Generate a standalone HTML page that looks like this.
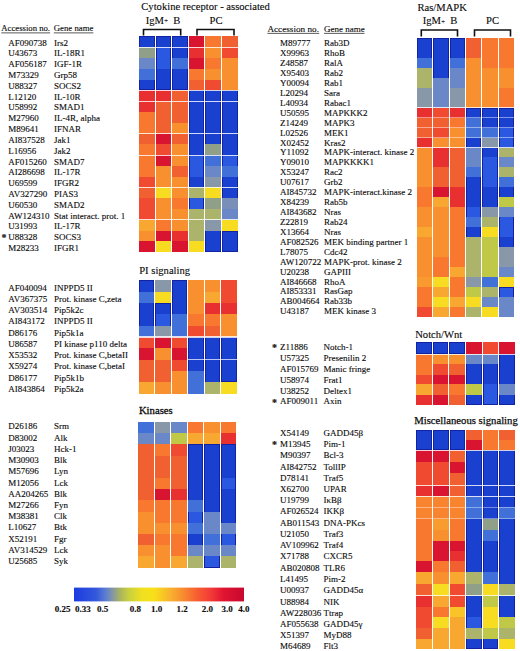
<!DOCTYPE html>
<html><head><meta charset="utf-8"><style>
html,body{margin:0;padding:0;background:#fff;}
body{width:520px;height:651px;overflow:hidden;}
svg{display:block;}
text{font-family:"Liberation Serif", serif;fill:#0a0a0a;stroke:#0a0a0a;stroke-width:0.12px;}
</style></head><body>
<svg width="520" height="651" viewBox="0 0 520 651">
<rect x="0" y="0" width="520" height="651" fill="#fff"/>
<rect x="139" y="36" width="16" height="11" fill="#1a40d0"/>
<rect x="156" y="36" width="15" height="11" fill="#1a40d0"/>
<rect x="172" y="36" width="16" height="11" fill="#1a40d0"/>
<rect x="189" y="36" width="15" height="11" fill="#d81430"/>
<rect x="205" y="36" width="16" height="11" fill="#f87830"/>
<rect x="222" y="36" width="16" height="11" fill="#f06030"/>
<rect x="139" y="47" width="16" height="11" fill="#90a088"/>
<rect x="156" y="47" width="15" height="11" fill="#2a58e0"/>
<rect x="172" y="47" width="16" height="11" fill="#1a40d0"/>
<rect x="189" y="47" width="15" height="11" fill="#e83030"/>
<rect x="205" y="47" width="16" height="11" fill="#f89030"/>
<rect x="222" y="47" width="16" height="11" fill="#f04a30"/>
<rect x="139" y="58" width="16" height="11" fill="#6a88c8"/>
<rect x="156" y="58" width="15" height="11" fill="#2a58e0"/>
<rect x="172" y="58" width="16" height="11" fill="#4070d8"/>
<rect x="189" y="58" width="15" height="11" fill="#d81430"/>
<rect x="205" y="58" width="16" height="11" fill="#f87830"/>
<rect x="222" y="58" width="16" height="11" fill="#f89030"/>
<rect x="139" y="69" width="16" height="11" fill="#4070d8"/>
<rect x="156" y="69" width="15" height="11" fill="#1a40d0"/>
<rect x="172" y="69" width="16" height="11" fill="#1a40d0"/>
<rect x="189" y="69" width="15" height="11" fill="#f87830"/>
<rect x="205" y="69" width="16" height="11" fill="#f89030"/>
<rect x="222" y="69" width="16" height="11" fill="#f89030"/>
<rect x="139" y="80" width="16" height="10" fill="#1a40d0"/>
<rect x="156" y="80" width="15" height="10" fill="#1a40d0"/>
<rect x="172" y="80" width="16" height="10" fill="#1a40d0"/>
<rect x="189" y="80" width="15" height="10" fill="#f06030"/>
<rect x="205" y="80" width="16" height="10" fill="#f04a30"/>
<rect x="222" y="80" width="16" height="10" fill="#f89030"/>
<rect x="139" y="90" width="16" height="11" fill="#e83030"/>
<rect x="156" y="90" width="15" height="11" fill="#e83030"/>
<rect x="172" y="90" width="16" height="11" fill="#f06030"/>
<rect x="189" y="90" width="15" height="11" fill="#1a40d0"/>
<rect x="205" y="90" width="16" height="11" fill="#1a40d0"/>
<rect x="222" y="90" width="16" height="11" fill="#1a40d0"/>
<rect x="139" y="101" width="16" height="11" fill="#e83030"/>
<rect x="156" y="101" width="15" height="11" fill="#f06030"/>
<rect x="172" y="101" width="16" height="11" fill="#f06030"/>
<rect x="189" y="101" width="15" height="11" fill="#1a40d0"/>
<rect x="205" y="101" width="16" height="11" fill="#1a40d0"/>
<rect x="222" y="101" width="16" height="11" fill="#1a40d0"/>
<rect x="139" y="112" width="16" height="11" fill="#f87830"/>
<rect x="156" y="112" width="15" height="11" fill="#f06030"/>
<rect x="172" y="112" width="16" height="11" fill="#f06030"/>
<rect x="189" y="112" width="15" height="11" fill="#1a40d0"/>
<rect x="205" y="112" width="16" height="11" fill="#1a40d0"/>
<rect x="222" y="112" width="16" height="11" fill="#1a40d0"/>
<rect x="139" y="123" width="16" height="11" fill="#f87830"/>
<rect x="156" y="123" width="15" height="11" fill="#f06030"/>
<rect x="172" y="123" width="16" height="11" fill="#f89030"/>
<rect x="189" y="123" width="15" height="11" fill="#1a40d0"/>
<rect x="205" y="123" width="16" height="11" fill="#1a40d0"/>
<rect x="222" y="123" width="16" height="11" fill="#1a40d0"/>
<rect x="139" y="134" width="16" height="10" fill="#f06030"/>
<rect x="156" y="134" width="15" height="10" fill="#d81430"/>
<rect x="172" y="134" width="16" height="10" fill="#f06030"/>
<rect x="189" y="134" width="15" height="10" fill="#1a40d0"/>
<rect x="205" y="134" width="16" height="10" fill="#1a40d0"/>
<rect x="222" y="134" width="16" height="10" fill="#1a40d0"/>
<rect x="139" y="144" width="16" height="11" fill="#f87830"/>
<rect x="156" y="144" width="15" height="11" fill="#f04a30"/>
<rect x="172" y="144" width="16" height="11" fill="#f89030"/>
<rect x="189" y="144" width="15" height="11" fill="#1a40d0"/>
<rect x="205" y="144" width="16" height="11" fill="#90a088"/>
<rect x="222" y="144" width="16" height="11" fill="#1a40d0"/>
<rect x="139" y="155" width="16" height="11" fill="#f87830"/>
<rect x="156" y="155" width="15" height="11" fill="#d81430"/>
<rect x="172" y="155" width="16" height="11" fill="#f89030"/>
<rect x="189" y="155" width="15" height="11" fill="#2a58e0"/>
<rect x="205" y="155" width="16" height="11" fill="#4070d8"/>
<rect x="222" y="155" width="16" height="11" fill="#2a58e0"/>
<rect x="139" y="166" width="16" height="11" fill="#f87830"/>
<rect x="156" y="166" width="15" height="11" fill="#f89030"/>
<rect x="172" y="166" width="16" height="11" fill="#f06030"/>
<rect x="189" y="166" width="15" height="11" fill="#2a58e0"/>
<rect x="205" y="166" width="16" height="11" fill="#6a88c8"/>
<rect x="222" y="166" width="16" height="11" fill="#4070d8"/>
<rect x="139" y="177" width="16" height="10" fill="#f04a30"/>
<rect x="156" y="177" width="15" height="10" fill="#f89030"/>
<rect x="172" y="177" width="16" height="10" fill="#f89030"/>
<rect x="189" y="177" width="15" height="10" fill="#1a40d0"/>
<rect x="205" y="177" width="16" height="10" fill="#8898a8"/>
<rect x="222" y="177" width="16" height="10" fill="#1a40d0"/>
<rect x="139" y="187" width="16" height="11" fill="#f06030"/>
<rect x="156" y="187" width="15" height="11" fill="#f8dc22"/>
<rect x="172" y="187" width="16" height="11" fill="#f89030"/>
<rect x="189" y="187" width="15" height="11" fill="#acb46c"/>
<rect x="205" y="187" width="16" height="11" fill="#f8dc22"/>
<rect x="222" y="187" width="16" height="11" fill="#1a40d0"/>
<rect x="139" y="198" width="16" height="11" fill="#f04a30"/>
<rect x="156" y="198" width="15" height="11" fill="#f89030"/>
<rect x="172" y="198" width="16" height="11" fill="#f87830"/>
<rect x="189" y="198" width="15" height="11" fill="#2a58e0"/>
<rect x="205" y="198" width="16" height="11" fill="#90a088"/>
<rect x="222" y="198" width="16" height="11" fill="#7890b8"/>
<rect x="139" y="209" width="16" height="11" fill="#f04a30"/>
<rect x="156" y="209" width="15" height="11" fill="#f89030"/>
<rect x="172" y="209" width="16" height="11" fill="#f89030"/>
<rect x="189" y="209" width="15" height="11" fill="#acb46c"/>
<rect x="205" y="209" width="16" height="11" fill="#acb46c"/>
<rect x="222" y="209" width="16" height="11" fill="#6a88c8"/>
<rect x="139" y="220" width="16" height="11" fill="#f8a830"/>
<rect x="156" y="220" width="15" height="11" fill="#f87830"/>
<rect x="172" y="220" width="16" height="11" fill="#f89030"/>
<rect x="189" y="220" width="15" height="11" fill="#acb46c"/>
<rect x="205" y="220" width="16" height="11" fill="#8898a8"/>
<rect x="222" y="220" width="16" height="11" fill="#f8dc22"/>
<rect x="139" y="231" width="16" height="10" fill="#f89030"/>
<rect x="156" y="231" width="15" height="10" fill="#d81430"/>
<rect x="172" y="231" width="16" height="10" fill="#e83030"/>
<rect x="189" y="231" width="15" height="10" fill="#acb46c"/>
<rect x="205" y="231" width="16" height="10" fill="#1a40d0"/>
<rect x="222" y="231" width="16" height="10" fill="#1a40d0"/>
<rect x="139" y="241" width="16" height="11" fill="#d81430"/>
<rect x="156" y="241" width="15" height="11" fill="#f8dc22"/>
<rect x="172" y="241" width="16" height="11" fill="#d81430"/>
<rect x="189" y="241" width="15" height="11" fill="#f8dc22"/>
<rect x="205" y="241" width="16" height="11" fill="#1a40d0"/>
<rect x="222" y="241" width="16" height="11" fill="#1a40d0"/>
<rect x="139" y="36" width="1" height="11" fill="#1222a0"/>
<rect x="154" y="36" width="1" height="11" fill="#1222a0"/>
<rect x="139" y="36" width="16" height="1" fill="#1222a0"/>
<rect x="156" y="36" width="1" height="11" fill="#1222a0"/>
<rect x="170" y="36" width="1" height="11" fill="#1222a0"/>
<rect x="156" y="36" width="15" height="1" fill="#1222a0"/>
<rect x="172" y="36" width="1" height="11" fill="#1222a0"/>
<rect x="187" y="36" width="1" height="11" fill="#1222a0"/>
<rect x="172" y="36" width="16" height="1" fill="#1222a0"/>
<rect x="156" y="47" width="1" height="11" fill="#1222a0"/>
<rect x="170" y="47" width="1" height="11" fill="#1222a0"/>
<rect x="172" y="47" width="1" height="11" fill="#1222a0"/>
<rect x="187" y="47" width="1" height="11" fill="#1222a0"/>
<rect x="156" y="58" width="1" height="11" fill="#1222a0"/>
<rect x="170" y="58" width="1" height="11" fill="#1222a0"/>
<rect x="156" y="69" width="1" height="11" fill="#1222a0"/>
<rect x="170" y="69" width="1" height="11" fill="#1222a0"/>
<rect x="172" y="69" width="1" height="11" fill="#1222a0"/>
<rect x="187" y="69" width="1" height="11" fill="#1222a0"/>
<rect x="139" y="80" width="1" height="10" fill="#1222a0"/>
<rect x="154" y="80" width="1" height="10" fill="#1222a0"/>
<rect x="139" y="89" width="16" height="1" fill="#1222a0"/>
<rect x="156" y="80" width="1" height="10" fill="#1222a0"/>
<rect x="170" y="80" width="1" height="10" fill="#1222a0"/>
<rect x="156" y="89" width="15" height="1" fill="#1222a0"/>
<rect x="172" y="80" width="1" height="10" fill="#1222a0"/>
<rect x="187" y="80" width="1" height="10" fill="#1222a0"/>
<rect x="172" y="89" width="16" height="1" fill="#1222a0"/>
<rect x="189" y="90" width="1" height="11" fill="#1222a0"/>
<rect x="203" y="90" width="1" height="11" fill="#1222a0"/>
<rect x="189" y="90" width="15" height="1" fill="#1222a0"/>
<rect x="205" y="90" width="1" height="11" fill="#1222a0"/>
<rect x="220" y="90" width="1" height="11" fill="#1222a0"/>
<rect x="205" y="90" width="16" height="1" fill="#1222a0"/>
<rect x="222" y="90" width="1" height="11" fill="#1222a0"/>
<rect x="237" y="90" width="1" height="11" fill="#1222a0"/>
<rect x="222" y="90" width="16" height="1" fill="#1222a0"/>
<rect x="189" y="101" width="1" height="11" fill="#1222a0"/>
<rect x="203" y="101" width="1" height="11" fill="#1222a0"/>
<rect x="205" y="101" width="1" height="11" fill="#1222a0"/>
<rect x="220" y="101" width="1" height="11" fill="#1222a0"/>
<rect x="222" y="101" width="1" height="11" fill="#1222a0"/>
<rect x="237" y="101" width="1" height="11" fill="#1222a0"/>
<rect x="189" y="112" width="1" height="11" fill="#1222a0"/>
<rect x="203" y="112" width="1" height="11" fill="#1222a0"/>
<rect x="205" y="112" width="1" height="11" fill="#1222a0"/>
<rect x="220" y="112" width="1" height="11" fill="#1222a0"/>
<rect x="222" y="112" width="1" height="11" fill="#1222a0"/>
<rect x="237" y="112" width="1" height="11" fill="#1222a0"/>
<rect x="189" y="123" width="1" height="11" fill="#1222a0"/>
<rect x="203" y="123" width="1" height="11" fill="#1222a0"/>
<rect x="205" y="123" width="1" height="11" fill="#1222a0"/>
<rect x="220" y="123" width="1" height="11" fill="#1222a0"/>
<rect x="222" y="123" width="1" height="11" fill="#1222a0"/>
<rect x="237" y="123" width="1" height="11" fill="#1222a0"/>
<rect x="189" y="134" width="1" height="10" fill="#1222a0"/>
<rect x="203" y="134" width="1" height="10" fill="#1222a0"/>
<rect x="205" y="134" width="1" height="10" fill="#1222a0"/>
<rect x="220" y="134" width="1" height="10" fill="#1222a0"/>
<rect x="222" y="134" width="1" height="10" fill="#1222a0"/>
<rect x="237" y="134" width="1" height="10" fill="#1222a0"/>
<rect x="189" y="144" width="1" height="11" fill="#1222a0"/>
<rect x="203" y="144" width="1" height="11" fill="#1222a0"/>
<rect x="222" y="144" width="1" height="11" fill="#1222a0"/>
<rect x="237" y="144" width="1" height="11" fill="#1222a0"/>
<rect x="189" y="155" width="1" height="11" fill="#1222a0"/>
<rect x="203" y="155" width="1" height="11" fill="#1222a0"/>
<rect x="222" y="155" width="1" height="11" fill="#1222a0"/>
<rect x="237" y="155" width="1" height="11" fill="#1222a0"/>
<rect x="189" y="166" width="1" height="11" fill="#1222a0"/>
<rect x="203" y="166" width="1" height="11" fill="#1222a0"/>
<rect x="189" y="177" width="1" height="10" fill="#1222a0"/>
<rect x="203" y="177" width="1" height="10" fill="#1222a0"/>
<rect x="222" y="177" width="1" height="10" fill="#1222a0"/>
<rect x="237" y="177" width="1" height="10" fill="#1222a0"/>
<rect x="222" y="187" width="1" height="11" fill="#1222a0"/>
<rect x="237" y="187" width="1" height="11" fill="#1222a0"/>
<rect x="189" y="198" width="1" height="11" fill="#1222a0"/>
<rect x="203" y="198" width="1" height="11" fill="#1222a0"/>
<rect x="205" y="231" width="1" height="10" fill="#1222a0"/>
<rect x="220" y="231" width="1" height="10" fill="#1222a0"/>
<rect x="222" y="231" width="1" height="10" fill="#1222a0"/>
<rect x="237" y="231" width="1" height="10" fill="#1222a0"/>
<rect x="222" y="231" width="16" height="1" fill="#1222a0"/>
<rect x="205" y="241" width="1" height="11" fill="#1222a0"/>
<rect x="220" y="241" width="1" height="11" fill="#1222a0"/>
<rect x="205" y="251" width="16" height="1" fill="#1222a0"/>
<rect x="222" y="241" width="1" height="11" fill="#1222a0"/>
<rect x="237" y="241" width="1" height="11" fill="#1222a0"/>
<rect x="222" y="251" width="16" height="1" fill="#1222a0"/>
<rect x="138" y="47" width="100" height="1" fill="rgba(255,255,255,0.8)"/>
<rect x="138" y="90" width="100" height="1" fill="rgba(255,255,255,0.8)"/>
<rect x="138" y="101" width="100" height="1" fill="rgba(255,255,255,0.8)"/>
<rect x="138" y="133" width="100" height="1" fill="rgba(255,255,255,0.8)"/>
<rect x="138" y="155" width="100" height="1" fill="rgba(255,255,255,0.8)"/>
<rect x="138" y="187" width="100" height="1" fill="rgba(255,255,255,0.8)"/>
<rect x="138" y="219" width="100" height="1" fill="rgba(255,255,255,0.8)"/>
<rect x="139" y="280" width="15" height="12" fill="#1a40d0"/>
<rect x="155" y="280" width="16" height="12" fill="#8898a8"/>
<rect x="172" y="280" width="15" height="12" fill="#1a40d0"/>
<rect x="188" y="280" width="16" height="12" fill="#f89030"/>
<rect x="205" y="280" width="15" height="12" fill="#f89030"/>
<rect x="221" y="280" width="16" height="12" fill="#f04a30"/>
<rect x="139" y="292" width="15" height="11" fill="#4070d8"/>
<rect x="155" y="292" width="16" height="11" fill="#f8dc22"/>
<rect x="172" y="292" width="15" height="11" fill="#1a40d0"/>
<rect x="188" y="292" width="16" height="11" fill="#f89030"/>
<rect x="205" y="292" width="15" height="11" fill="#f8a830"/>
<rect x="221" y="292" width="16" height="11" fill="#f04a30"/>
<rect x="139" y="303" width="15" height="11" fill="#1a40d0"/>
<rect x="155" y="303" width="16" height="11" fill="#1a40d0"/>
<rect x="172" y="303" width="15" height="11" fill="#1a40d0"/>
<rect x="188" y="303" width="16" height="11" fill="#f89030"/>
<rect x="205" y="303" width="15" height="11" fill="#e83030"/>
<rect x="221" y="303" width="16" height="11" fill="#e83030"/>
<rect x="139" y="314" width="15" height="12" fill="#1a40d0"/>
<rect x="155" y="314" width="16" height="12" fill="#2a58e0"/>
<rect x="172" y="314" width="15" height="12" fill="#4070d8"/>
<rect x="188" y="314" width="16" height="12" fill="#f87830"/>
<rect x="205" y="314" width="15" height="12" fill="#f87830"/>
<rect x="221" y="314" width="16" height="12" fill="#f89030"/>
<rect x="139" y="326" width="15" height="11" fill="#4070d8"/>
<rect x="155" y="326" width="16" height="11" fill="#8898a8"/>
<rect x="172" y="326" width="15" height="11" fill="#4070d8"/>
<rect x="188" y="326" width="16" height="11" fill="#f04a30"/>
<rect x="205" y="326" width="15" height="11" fill="#f06030"/>
<rect x="221" y="326" width="16" height="11" fill="#f89030"/>
<rect x="139" y="337" width="15" height="11" fill="#f04a30"/>
<rect x="155" y="337" width="16" height="11" fill="#d81430"/>
<rect x="172" y="337" width="15" height="11" fill="#f04a30"/>
<rect x="188" y="337" width="16" height="11" fill="#1a40d0"/>
<rect x="205" y="337" width="15" height="11" fill="#1a40d0"/>
<rect x="221" y="337" width="16" height="11" fill="#1a40d0"/>
<rect x="139" y="348" width="15" height="12" fill="#d81430"/>
<rect x="155" y="348" width="16" height="12" fill="#f89030"/>
<rect x="172" y="348" width="15" height="12" fill="#d81430"/>
<rect x="188" y="348" width="16" height="12" fill="#1a40d0"/>
<rect x="205" y="348" width="15" height="12" fill="#1a40d0"/>
<rect x="221" y="348" width="16" height="12" fill="#1a40d0"/>
<rect x="139" y="360" width="15" height="11" fill="#f06030"/>
<rect x="155" y="360" width="16" height="11" fill="#f06030"/>
<rect x="172" y="360" width="15" height="11" fill="#f04a30"/>
<rect x="188" y="360" width="16" height="11" fill="#1a40d0"/>
<rect x="205" y="360" width="15" height="11" fill="#1a40d0"/>
<rect x="221" y="360" width="16" height="11" fill="#1a40d0"/>
<rect x="139" y="371" width="15" height="11" fill="#f06030"/>
<rect x="155" y="371" width="16" height="11" fill="#f06030"/>
<rect x="172" y="371" width="15" height="11" fill="#f89030"/>
<rect x="188" y="371" width="16" height="11" fill="#4070d8"/>
<rect x="205" y="371" width="15" height="11" fill="#1a40d0"/>
<rect x="221" y="371" width="16" height="11" fill="#1a40d0"/>
<rect x="139" y="382" width="15" height="12" fill="#f8a830"/>
<rect x="155" y="382" width="16" height="12" fill="#f89030"/>
<rect x="172" y="382" width="15" height="12" fill="#f89030"/>
<rect x="188" y="382" width="16" height="12" fill="#4070d8"/>
<rect x="205" y="382" width="15" height="12" fill="#acb46c"/>
<rect x="221" y="382" width="16" height="12" fill="#f8dc22"/>
<rect x="139" y="280" width="1" height="12" fill="#1222a0"/>
<rect x="153" y="280" width="1" height="12" fill="#1222a0"/>
<rect x="139" y="280" width="15" height="1" fill="#1222a0"/>
<rect x="172" y="280" width="1" height="12" fill="#1222a0"/>
<rect x="186" y="280" width="1" height="12" fill="#1222a0"/>
<rect x="172" y="280" width="15" height="1" fill="#1222a0"/>
<rect x="172" y="292" width="1" height="11" fill="#1222a0"/>
<rect x="186" y="292" width="1" height="11" fill="#1222a0"/>
<rect x="139" y="303" width="1" height="11" fill="#1222a0"/>
<rect x="153" y="303" width="1" height="11" fill="#1222a0"/>
<rect x="155" y="303" width="1" height="11" fill="#1222a0"/>
<rect x="170" y="303" width="1" height="11" fill="#1222a0"/>
<rect x="155" y="303" width="16" height="1" fill="#1222a0"/>
<rect x="172" y="303" width="1" height="11" fill="#1222a0"/>
<rect x="186" y="303" width="1" height="11" fill="#1222a0"/>
<rect x="139" y="314" width="1" height="12" fill="#1222a0"/>
<rect x="153" y="314" width="1" height="12" fill="#1222a0"/>
<rect x="155" y="314" width="1" height="12" fill="#1222a0"/>
<rect x="170" y="314" width="1" height="12" fill="#1222a0"/>
<rect x="188" y="337" width="1" height="11" fill="#1222a0"/>
<rect x="203" y="337" width="1" height="11" fill="#1222a0"/>
<rect x="188" y="337" width="16" height="1" fill="#1222a0"/>
<rect x="205" y="337" width="1" height="11" fill="#1222a0"/>
<rect x="219" y="337" width="1" height="11" fill="#1222a0"/>
<rect x="205" y="337" width="15" height="1" fill="#1222a0"/>
<rect x="221" y="337" width="1" height="11" fill="#1222a0"/>
<rect x="236" y="337" width="1" height="11" fill="#1222a0"/>
<rect x="221" y="337" width="16" height="1" fill="#1222a0"/>
<rect x="188" y="348" width="1" height="12" fill="#1222a0"/>
<rect x="203" y="348" width="1" height="12" fill="#1222a0"/>
<rect x="205" y="348" width="1" height="12" fill="#1222a0"/>
<rect x="219" y="348" width="1" height="12" fill="#1222a0"/>
<rect x="221" y="348" width="1" height="12" fill="#1222a0"/>
<rect x="236" y="348" width="1" height="12" fill="#1222a0"/>
<rect x="188" y="360" width="1" height="11" fill="#1222a0"/>
<rect x="203" y="360" width="1" height="11" fill="#1222a0"/>
<rect x="205" y="360" width="1" height="11" fill="#1222a0"/>
<rect x="219" y="360" width="1" height="11" fill="#1222a0"/>
<rect x="221" y="360" width="1" height="11" fill="#1222a0"/>
<rect x="236" y="360" width="1" height="11" fill="#1222a0"/>
<rect x="205" y="371" width="1" height="11" fill="#1222a0"/>
<rect x="219" y="371" width="1" height="11" fill="#1222a0"/>
<rect x="221" y="371" width="1" height="11" fill="#1222a0"/>
<rect x="236" y="371" width="1" height="11" fill="#1222a0"/>
<rect x="221" y="381" width="16" height="1" fill="#1222a0"/>
<rect x="138" y="336" width="99" height="2" fill="rgba(255,255,255,0.8)"/>
<rect x="188" y="359" width="49" height="1" fill="rgba(255,255,255,0.7)"/>
<rect x="138" y="422" width="16" height="11" fill="#4070d8"/>
<rect x="155" y="422" width="15" height="11" fill="#8898a8"/>
<rect x="171" y="422" width="16" height="11" fill="#6a88c8"/>
<rect x="188" y="422" width="15" height="11" fill="#f87830"/>
<rect x="204" y="422" width="16" height="11" fill="#f89030"/>
<rect x="221" y="422" width="15" height="11" fill="#f87830"/>
<rect x="138" y="433" width="16" height="11" fill="#6a88c8"/>
<rect x="155" y="433" width="15" height="11" fill="#6a88c8"/>
<rect x="171" y="433" width="16" height="11" fill="#c0c848"/>
<rect x="188" y="433" width="15" height="11" fill="#f8a830"/>
<rect x="204" y="433" width="16" height="11" fill="#f8a830"/>
<rect x="221" y="433" width="15" height="11" fill="#e83030"/>
<rect x="138" y="444" width="16" height="12" fill="#f06030"/>
<rect x="155" y="444" width="15" height="12" fill="#f87830"/>
<rect x="171" y="444" width="16" height="12" fill="#f04a30"/>
<rect x="188" y="444" width="15" height="12" fill="#1a40d0"/>
<rect x="204" y="444" width="16" height="12" fill="#1a40d0"/>
<rect x="221" y="444" width="15" height="12" fill="#1a40d0"/>
<rect x="138" y="456" width="16" height="11" fill="#f06030"/>
<rect x="155" y="456" width="15" height="11" fill="#f06030"/>
<rect x="171" y="456" width="16" height="11" fill="#f06030"/>
<rect x="188" y="456" width="15" height="11" fill="#1a40d0"/>
<rect x="204" y="456" width="16" height="11" fill="#1a40d0"/>
<rect x="221" y="456" width="15" height="11" fill="#1a40d0"/>
<rect x="138" y="467" width="16" height="11" fill="#f06030"/>
<rect x="155" y="467" width="15" height="11" fill="#f06030"/>
<rect x="171" y="467" width="16" height="11" fill="#f06030"/>
<rect x="188" y="467" width="15" height="11" fill="#1a40d0"/>
<rect x="204" y="467" width="16" height="11" fill="#1a40d0"/>
<rect x="221" y="467" width="15" height="11" fill="#1a40d0"/>
<rect x="138" y="478" width="16" height="11" fill="#f06030"/>
<rect x="155" y="478" width="15" height="11" fill="#f87830"/>
<rect x="171" y="478" width="16" height="11" fill="#f06030"/>
<rect x="188" y="478" width="15" height="11" fill="#1a40d0"/>
<rect x="204" y="478" width="16" height="11" fill="#1a40d0"/>
<rect x="221" y="478" width="15" height="11" fill="#2a58e0"/>
<rect x="138" y="489" width="16" height="11" fill="#f06030"/>
<rect x="155" y="489" width="15" height="11" fill="#d81430"/>
<rect x="171" y="489" width="16" height="11" fill="#e83030"/>
<rect x="188" y="489" width="15" height="11" fill="#1a40d0"/>
<rect x="204" y="489" width="16" height="11" fill="#1a40d0"/>
<rect x="221" y="489" width="15" height="11" fill="#1a40d0"/>
<rect x="138" y="500" width="16" height="12" fill="#f87830"/>
<rect x="155" y="500" width="15" height="12" fill="#f87830"/>
<rect x="171" y="500" width="16" height="12" fill="#f87830"/>
<rect x="188" y="500" width="15" height="12" fill="#4070d8"/>
<rect x="204" y="500" width="16" height="12" fill="#1a40d0"/>
<rect x="221" y="500" width="15" height="12" fill="#1a40d0"/>
<rect x="138" y="512" width="16" height="11" fill="#f89030"/>
<rect x="155" y="512" width="15" height="11" fill="#f87830"/>
<rect x="171" y="512" width="16" height="11" fill="#f87830"/>
<rect x="188" y="512" width="15" height="11" fill="#2a58e0"/>
<rect x="204" y="512" width="16" height="11" fill="#6a88c8"/>
<rect x="221" y="512" width="15" height="11" fill="#1a40d0"/>
<rect x="138" y="523" width="16" height="11" fill="#f89030"/>
<rect x="155" y="523" width="15" height="11" fill="#f89030"/>
<rect x="171" y="523" width="16" height="11" fill="#f89030"/>
<rect x="188" y="523" width="15" height="11" fill="#4070d8"/>
<rect x="204" y="523" width="16" height="11" fill="#6a88c8"/>
<rect x="221" y="523" width="15" height="11" fill="#6a88c8"/>
<rect x="138" y="534" width="16" height="11" fill="#f06030"/>
<rect x="155" y="534" width="15" height="11" fill="#f87830"/>
<rect x="171" y="534" width="16" height="11" fill="#f87830"/>
<rect x="188" y="534" width="15" height="11" fill="#1a40d0"/>
<rect x="204" y="534" width="16" height="11" fill="#4070d8"/>
<rect x="221" y="534" width="15" height="11" fill="#2a58e0"/>
<rect x="138" y="545" width="16" height="11" fill="#f89030"/>
<rect x="155" y="545" width="15" height="11" fill="#f89030"/>
<rect x="171" y="545" width="16" height="11" fill="#f87830"/>
<rect x="188" y="545" width="15" height="11" fill="#6a88c8"/>
<rect x="204" y="545" width="16" height="11" fill="#6a88c8"/>
<rect x="221" y="545" width="15" height="11" fill="#6a88c8"/>
<rect x="138" y="556" width="16" height="12" fill="#f8a830"/>
<rect x="155" y="556" width="15" height="12" fill="#f89030"/>
<rect x="171" y="556" width="16" height="12" fill="#f8a830"/>
<rect x="188" y="556" width="15" height="12" fill="#acb46c"/>
<rect x="204" y="556" width="16" height="12" fill="#2a58e0"/>
<rect x="221" y="556" width="15" height="12" fill="#acb46c"/>
<rect x="188" y="444" width="1" height="12" fill="#1222a0"/>
<rect x="202" y="444" width="1" height="12" fill="#1222a0"/>
<rect x="188" y="444" width="15" height="1" fill="#1222a0"/>
<rect x="204" y="444" width="1" height="12" fill="#1222a0"/>
<rect x="219" y="444" width="1" height="12" fill="#1222a0"/>
<rect x="204" y="444" width="16" height="1" fill="#1222a0"/>
<rect x="221" y="444" width="1" height="12" fill="#1222a0"/>
<rect x="235" y="444" width="1" height="12" fill="#1222a0"/>
<rect x="221" y="444" width="15" height="1" fill="#1222a0"/>
<rect x="188" y="456" width="1" height="11" fill="#1222a0"/>
<rect x="202" y="456" width="1" height="11" fill="#1222a0"/>
<rect x="204" y="456" width="1" height="11" fill="#1222a0"/>
<rect x="219" y="456" width="1" height="11" fill="#1222a0"/>
<rect x="221" y="456" width="1" height="11" fill="#1222a0"/>
<rect x="235" y="456" width="1" height="11" fill="#1222a0"/>
<rect x="188" y="467" width="1" height="11" fill="#1222a0"/>
<rect x="202" y="467" width="1" height="11" fill="#1222a0"/>
<rect x="204" y="467" width="1" height="11" fill="#1222a0"/>
<rect x="219" y="467" width="1" height="11" fill="#1222a0"/>
<rect x="221" y="467" width="1" height="11" fill="#1222a0"/>
<rect x="235" y="467" width="1" height="11" fill="#1222a0"/>
<rect x="188" y="478" width="1" height="11" fill="#1222a0"/>
<rect x="202" y="478" width="1" height="11" fill="#1222a0"/>
<rect x="204" y="478" width="1" height="11" fill="#1222a0"/>
<rect x="219" y="478" width="1" height="11" fill="#1222a0"/>
<rect x="221" y="478" width="1" height="11" fill="#1222a0"/>
<rect x="235" y="478" width="1" height="11" fill="#1222a0"/>
<rect x="188" y="489" width="1" height="11" fill="#1222a0"/>
<rect x="202" y="489" width="1" height="11" fill="#1222a0"/>
<rect x="204" y="489" width="1" height="11" fill="#1222a0"/>
<rect x="219" y="489" width="1" height="11" fill="#1222a0"/>
<rect x="221" y="489" width="1" height="11" fill="#1222a0"/>
<rect x="235" y="489" width="1" height="11" fill="#1222a0"/>
<rect x="204" y="500" width="1" height="12" fill="#1222a0"/>
<rect x="219" y="500" width="1" height="12" fill="#1222a0"/>
<rect x="221" y="500" width="1" height="12" fill="#1222a0"/>
<rect x="235" y="500" width="1" height="12" fill="#1222a0"/>
<rect x="188" y="512" width="1" height="11" fill="#1222a0"/>
<rect x="202" y="512" width="1" height="11" fill="#1222a0"/>
<rect x="221" y="512" width="1" height="11" fill="#1222a0"/>
<rect x="235" y="512" width="1" height="11" fill="#1222a0"/>
<rect x="188" y="534" width="1" height="11" fill="#1222a0"/>
<rect x="202" y="534" width="1" height="11" fill="#1222a0"/>
<rect x="221" y="534" width="1" height="11" fill="#1222a0"/>
<rect x="235" y="534" width="1" height="11" fill="#1222a0"/>
<rect x="204" y="556" width="1" height="12" fill="#1222a0"/>
<rect x="219" y="556" width="1" height="12" fill="#1222a0"/>
<rect x="204" y="567" width="16" height="1" fill="#1222a0"/>
<rect x="417" y="38" width="15" height="10" fill="#1a40d0"/>
<rect x="433" y="38" width="16" height="10" fill="#1a40d0"/>
<rect x="450" y="38" width="15" height="10" fill="#1a40d0"/>
<rect x="466" y="38" width="15" height="10" fill="#f06030"/>
<rect x="482" y="38" width="16" height="10" fill="#f87830"/>
<rect x="499" y="38" width="15" height="10" fill="#f87830"/>
<rect x="417" y="48" width="15" height="10" fill="#1a40d0"/>
<rect x="433" y="48" width="16" height="10" fill="#1a40d0"/>
<rect x="450" y="48" width="15" height="10" fill="#1a40d0"/>
<rect x="466" y="48" width="15" height="10" fill="#f06030"/>
<rect x="482" y="48" width="16" height="10" fill="#f87830"/>
<rect x="499" y="48" width="15" height="10" fill="#f87830"/>
<rect x="417" y="58" width="15" height="10" fill="#4070d8"/>
<rect x="433" y="58" width="16" height="10" fill="#1a40d0"/>
<rect x="450" y="58" width="15" height="10" fill="#4070d8"/>
<rect x="466" y="58" width="15" height="10" fill="#f89030"/>
<rect x="482" y="58" width="16" height="10" fill="#f87830"/>
<rect x="499" y="58" width="15" height="10" fill="#f87830"/>
<rect x="417" y="68" width="15" height="10" fill="#acb46c"/>
<rect x="433" y="68" width="16" height="10" fill="#1a40d0"/>
<rect x="450" y="68" width="15" height="10" fill="#6a88c8"/>
<rect x="466" y="68" width="15" height="10" fill="#f89030"/>
<rect x="482" y="68" width="16" height="10" fill="#f89030"/>
<rect x="499" y="68" width="15" height="10" fill="#f89030"/>
<rect x="417" y="78" width="15" height="10" fill="#acb46c"/>
<rect x="433" y="78" width="16" height="10" fill="#6a88c8"/>
<rect x="450" y="78" width="15" height="10" fill="#6a88c8"/>
<rect x="466" y="78" width="15" height="10" fill="#f89030"/>
<rect x="482" y="78" width="16" height="10" fill="#f89030"/>
<rect x="499" y="78" width="15" height="10" fill="#f89030"/>
<rect x="417" y="88" width="15" height="10" fill="#8898a8"/>
<rect x="433" y="88" width="16" height="10" fill="#6a88c8"/>
<rect x="450" y="88" width="15" height="10" fill="#8898a8"/>
<rect x="466" y="88" width="15" height="10" fill="#f89030"/>
<rect x="482" y="88" width="16" height="10" fill="#f89030"/>
<rect x="499" y="88" width="15" height="10" fill="#f87830"/>
<rect x="417" y="98" width="15" height="10" fill="#8898a8"/>
<rect x="433" y="98" width="16" height="10" fill="#6a88c8"/>
<rect x="450" y="98" width="15" height="10" fill="#8898a8"/>
<rect x="466" y="98" width="15" height="10" fill="#f89030"/>
<rect x="482" y="98" width="16" height="10" fill="#f89030"/>
<rect x="499" y="98" width="15" height="10" fill="#f87830"/>
<rect x="417" y="108" width="15" height="10" fill="#e83030"/>
<rect x="433" y="108" width="16" height="10" fill="#f04a30"/>
<rect x="450" y="108" width="15" height="10" fill="#e83030"/>
<rect x="466" y="108" width="15" height="10" fill="#1a40d0"/>
<rect x="482" y="108" width="16" height="10" fill="#1a40d0"/>
<rect x="499" y="108" width="15" height="10" fill="#1a40d0"/>
<rect x="417" y="118" width="15" height="10" fill="#f06030"/>
<rect x="433" y="118" width="16" height="10" fill="#f06030"/>
<rect x="450" y="118" width="15" height="10" fill="#f87830"/>
<rect x="466" y="118" width="15" height="10" fill="#4070d8"/>
<rect x="482" y="118" width="16" height="10" fill="#1a40d0"/>
<rect x="499" y="118" width="15" height="10" fill="#1a40d0"/>
<rect x="417" y="128" width="15" height="10" fill="#f06030"/>
<rect x="433" y="128" width="16" height="10" fill="#f04a30"/>
<rect x="450" y="128" width="15" height="10" fill="#f89030"/>
<rect x="466" y="128" width="15" height="10" fill="#4070d8"/>
<rect x="482" y="128" width="16" height="10" fill="#4070d8"/>
<rect x="499" y="128" width="15" height="10" fill="#2a58e0"/>
<rect x="417" y="138" width="15" height="10" fill="#e83030"/>
<rect x="433" y="138" width="16" height="10" fill="#f89030"/>
<rect x="450" y="138" width="15" height="10" fill="#f89030"/>
<rect x="466" y="138" width="15" height="10" fill="#1a40d0"/>
<rect x="482" y="138" width="16" height="10" fill="#8898a8"/>
<rect x="499" y="138" width="15" height="10" fill="#2a58e0"/>
<rect x="417" y="148" width="15" height="9" fill="#f89030"/>
<rect x="433" y="148" width="16" height="9" fill="#e83030"/>
<rect x="450" y="148" width="15" height="9" fill="#f06030"/>
<rect x="466" y="148" width="15" height="9" fill="#6a88c8"/>
<rect x="482" y="148" width="16" height="9" fill="#1a40d0"/>
<rect x="499" y="148" width="15" height="9" fill="#acb46c"/>
<rect x="417" y="157" width="15" height="10" fill="#f89030"/>
<rect x="433" y="157" width="16" height="10" fill="#e83030"/>
<rect x="450" y="157" width="15" height="10" fill="#f06030"/>
<rect x="466" y="157" width="15" height="10" fill="#6a88c8"/>
<rect x="482" y="157" width="16" height="10" fill="#2a58e0"/>
<rect x="499" y="157" width="15" height="10" fill="#6a88c8"/>
<rect x="417" y="167" width="15" height="10" fill="#f89030"/>
<rect x="433" y="167" width="16" height="10" fill="#f06030"/>
<rect x="450" y="167" width="15" height="10" fill="#f06030"/>
<rect x="466" y="167" width="15" height="10" fill="#4070d8"/>
<rect x="482" y="167" width="16" height="10" fill="#2a58e0"/>
<rect x="499" y="167" width="15" height="10" fill="#acb46c"/>
<rect x="417" y="177" width="15" height="10" fill="#f89030"/>
<rect x="433" y="177" width="16" height="10" fill="#f06030"/>
<rect x="450" y="177" width="15" height="10" fill="#f06030"/>
<rect x="466" y="177" width="15" height="10" fill="#1a40d0"/>
<rect x="482" y="177" width="16" height="10" fill="#2a58e0"/>
<rect x="499" y="177" width="15" height="10" fill="#4070d8"/>
<rect x="417" y="187" width="15" height="10" fill="#f87830"/>
<rect x="433" y="187" width="16" height="10" fill="#d81430"/>
<rect x="450" y="187" width="15" height="10" fill="#e83030"/>
<rect x="466" y="187" width="15" height="10" fill="#1a40d0"/>
<rect x="482" y="187" width="16" height="10" fill="#1a40d0"/>
<rect x="499" y="187" width="15" height="10" fill="#1a40d0"/>
<rect x="417" y="197" width="15" height="10" fill="#f87830"/>
<rect x="433" y="197" width="16" height="10" fill="#f8a830"/>
<rect x="450" y="197" width="15" height="10" fill="#e83030"/>
<rect x="466" y="197" width="15" height="10" fill="#1a40d0"/>
<rect x="482" y="197" width="16" height="10" fill="#1a40d0"/>
<rect x="499" y="197" width="15" height="10" fill="#c0c848"/>
<rect x="417" y="207" width="15" height="10" fill="#f89030"/>
<rect x="433" y="207" width="16" height="10" fill="#f89030"/>
<rect x="450" y="207" width="15" height="10" fill="#f87830"/>
<rect x="466" y="207" width="15" height="10" fill="#2a58e0"/>
<rect x="482" y="207" width="16" height="10" fill="#8898a8"/>
<rect x="499" y="207" width="15" height="10" fill="#6a88c8"/>
<rect x="417" y="217" width="15" height="10" fill="#f89030"/>
<rect x="433" y="217" width="16" height="10" fill="#f89030"/>
<rect x="450" y="217" width="15" height="10" fill="#f87830"/>
<rect x="466" y="217" width="15" height="10" fill="#4070d8"/>
<rect x="482" y="217" width="16" height="10" fill="#acb46c"/>
<rect x="499" y="217" width="15" height="10" fill="#2a58e0"/>
<rect x="417" y="227" width="15" height="10" fill="#f8a830"/>
<rect x="433" y="227" width="16" height="10" fill="#f89030"/>
<rect x="450" y="227" width="15" height="10" fill="#f87830"/>
<rect x="466" y="227" width="15" height="10" fill="#1a40d0"/>
<rect x="482" y="227" width="16" height="10" fill="#f8dc22"/>
<rect x="499" y="227" width="15" height="10" fill="#2a58e0"/>
<rect x="417" y="237" width="15" height="10" fill="#f89030"/>
<rect x="433" y="237" width="16" height="10" fill="#f89030"/>
<rect x="450" y="237" width="15" height="10" fill="#f87830"/>
<rect x="466" y="237" width="15" height="10" fill="#acb46c"/>
<rect x="482" y="237" width="16" height="10" fill="#c0c848"/>
<rect x="499" y="237" width="15" height="10" fill="#1a40d0"/>
<rect x="417" y="247" width="15" height="10" fill="#f89030"/>
<rect x="433" y="247" width="16" height="10" fill="#f89030"/>
<rect x="450" y="247" width="15" height="10" fill="#f87830"/>
<rect x="466" y="247" width="15" height="10" fill="#acb46c"/>
<rect x="482" y="247" width="16" height="10" fill="#c0c848"/>
<rect x="499" y="247" width="15" height="10" fill="#8898a8"/>
<rect x="417" y="257" width="15" height="10" fill="#f89030"/>
<rect x="433" y="257" width="16" height="10" fill="#f87830"/>
<rect x="450" y="257" width="15" height="10" fill="#f87830"/>
<rect x="466" y="257" width="15" height="10" fill="#acb46c"/>
<rect x="482" y="257" width="16" height="10" fill="#c0c848"/>
<rect x="499" y="257" width="15" height="10" fill="#8898a8"/>
<rect x="417" y="267" width="15" height="10" fill="#f89030"/>
<rect x="433" y="267" width="16" height="10" fill="#f87830"/>
<rect x="450" y="267" width="15" height="10" fill="#f8a830"/>
<rect x="466" y="267" width="15" height="10" fill="#acb46c"/>
<rect x="482" y="267" width="16" height="10" fill="#c0c848"/>
<rect x="499" y="267" width="15" height="10" fill="#6a88c8"/>
<rect x="417" y="277" width="15" height="10" fill="#f89a30"/>
<rect x="433" y="277" width="16" height="10" fill="#f8dc22"/>
<rect x="450" y="277" width="15" height="10" fill="#f87830"/>
<rect x="466" y="277" width="15" height="10" fill="#8898a8"/>
<rect x="482" y="277" width="16" height="10" fill="#4070d8"/>
<rect x="499" y="277" width="15" height="10" fill="#f8dc22"/>
<rect x="417" y="287" width="15" height="10" fill="#f87830"/>
<rect x="433" y="287" width="16" height="10" fill="#f8a830"/>
<rect x="450" y="287" width="15" height="10" fill="#f87830"/>
<rect x="466" y="287" width="15" height="10" fill="#c0c848"/>
<rect x="482" y="287" width="16" height="10" fill="#acb46c"/>
<rect x="499" y="287" width="15" height="10" fill="#2a58e0"/>
<rect x="417" y="297" width="15" height="10" fill="#f87830"/>
<rect x="433" y="297" width="16" height="10" fill="#f8dc22"/>
<rect x="450" y="297" width="15" height="10" fill="#f8a830"/>
<rect x="466" y="297" width="15" height="10" fill="#f8dc22"/>
<rect x="482" y="297" width="16" height="10" fill="#6a88c8"/>
<rect x="499" y="297" width="15" height="10" fill="#6a88c8"/>
<rect x="417" y="307" width="15" height="10" fill="#f04a30"/>
<rect x="433" y="307" width="16" height="10" fill="#f8a830"/>
<rect x="450" y="307" width="15" height="10" fill="#f87830"/>
<rect x="466" y="307" width="15" height="10" fill="#acb46c"/>
<rect x="482" y="307" width="16" height="10" fill="#f8dc22"/>
<rect x="499" y="307" width="15" height="10" fill="#6a88c8"/>
<rect x="417" y="38" width="1" height="10" fill="#1222a0"/>
<rect x="431" y="38" width="1" height="10" fill="#1222a0"/>
<rect x="417" y="38" width="15" height="1" fill="#1222a0"/>
<rect x="433" y="38" width="1" height="10" fill="#1222a0"/>
<rect x="448" y="38" width="1" height="10" fill="#1222a0"/>
<rect x="433" y="38" width="16" height="1" fill="#1222a0"/>
<rect x="450" y="38" width="1" height="10" fill="#1222a0"/>
<rect x="464" y="38" width="1" height="10" fill="#1222a0"/>
<rect x="450" y="38" width="15" height="1" fill="#1222a0"/>
<rect x="417" y="48" width="1" height="10" fill="#1222a0"/>
<rect x="431" y="48" width="1" height="10" fill="#1222a0"/>
<rect x="433" y="48" width="1" height="10" fill="#1222a0"/>
<rect x="448" y="48" width="1" height="10" fill="#1222a0"/>
<rect x="450" y="48" width="1" height="10" fill="#1222a0"/>
<rect x="464" y="48" width="1" height="10" fill="#1222a0"/>
<rect x="433" y="58" width="1" height="10" fill="#1222a0"/>
<rect x="448" y="58" width="1" height="10" fill="#1222a0"/>
<rect x="433" y="68" width="1" height="10" fill="#1222a0"/>
<rect x="448" y="68" width="1" height="10" fill="#1222a0"/>
<rect x="466" y="108" width="1" height="10" fill="#1222a0"/>
<rect x="480" y="108" width="1" height="10" fill="#1222a0"/>
<rect x="466" y="108" width="15" height="1" fill="#1222a0"/>
<rect x="482" y="108" width="1" height="10" fill="#1222a0"/>
<rect x="497" y="108" width="1" height="10" fill="#1222a0"/>
<rect x="482" y="108" width="16" height="1" fill="#1222a0"/>
<rect x="499" y="108" width="1" height="10" fill="#1222a0"/>
<rect x="513" y="108" width="1" height="10" fill="#1222a0"/>
<rect x="499" y="108" width="15" height="1" fill="#1222a0"/>
<rect x="482" y="118" width="1" height="10" fill="#1222a0"/>
<rect x="497" y="118" width="1" height="10" fill="#1222a0"/>
<rect x="499" y="118" width="1" height="10" fill="#1222a0"/>
<rect x="513" y="118" width="1" height="10" fill="#1222a0"/>
<rect x="499" y="128" width="1" height="10" fill="#1222a0"/>
<rect x="513" y="128" width="1" height="10" fill="#1222a0"/>
<rect x="466" y="138" width="1" height="10" fill="#1222a0"/>
<rect x="480" y="138" width="1" height="10" fill="#1222a0"/>
<rect x="499" y="138" width="1" height="10" fill="#1222a0"/>
<rect x="513" y="138" width="1" height="10" fill="#1222a0"/>
<rect x="482" y="148" width="1" height="9" fill="#1222a0"/>
<rect x="497" y="148" width="1" height="9" fill="#1222a0"/>
<rect x="482" y="157" width="1" height="10" fill="#1222a0"/>
<rect x="497" y="157" width="1" height="10" fill="#1222a0"/>
<rect x="482" y="167" width="1" height="10" fill="#1222a0"/>
<rect x="497" y="167" width="1" height="10" fill="#1222a0"/>
<rect x="466" y="177" width="1" height="10" fill="#1222a0"/>
<rect x="480" y="177" width="1" height="10" fill="#1222a0"/>
<rect x="482" y="177" width="1" height="10" fill="#1222a0"/>
<rect x="497" y="177" width="1" height="10" fill="#1222a0"/>
<rect x="466" y="187" width="1" height="10" fill="#1222a0"/>
<rect x="480" y="187" width="1" height="10" fill="#1222a0"/>
<rect x="482" y="187" width="1" height="10" fill="#1222a0"/>
<rect x="497" y="187" width="1" height="10" fill="#1222a0"/>
<rect x="499" y="187" width="1" height="10" fill="#1222a0"/>
<rect x="513" y="187" width="1" height="10" fill="#1222a0"/>
<rect x="466" y="197" width="1" height="10" fill="#1222a0"/>
<rect x="480" y="197" width="1" height="10" fill="#1222a0"/>
<rect x="482" y="197" width="1" height="10" fill="#1222a0"/>
<rect x="497" y="197" width="1" height="10" fill="#1222a0"/>
<rect x="466" y="207" width="1" height="10" fill="#1222a0"/>
<rect x="480" y="207" width="1" height="10" fill="#1222a0"/>
<rect x="499" y="217" width="1" height="10" fill="#1222a0"/>
<rect x="513" y="217" width="1" height="10" fill="#1222a0"/>
<rect x="466" y="227" width="1" height="10" fill="#1222a0"/>
<rect x="480" y="227" width="1" height="10" fill="#1222a0"/>
<rect x="499" y="227" width="1" height="10" fill="#1222a0"/>
<rect x="513" y="227" width="1" height="10" fill="#1222a0"/>
<rect x="499" y="237" width="1" height="10" fill="#1222a0"/>
<rect x="513" y="237" width="1" height="10" fill="#1222a0"/>
<rect x="499" y="287" width="1" height="10" fill="#1222a0"/>
<rect x="513" y="287" width="1" height="10" fill="#1222a0"/>
<rect x="499" y="287" width="15" height="1" fill="#1222a0"/>
<rect x="416" y="107" width="99" height="1" fill="rgba(255,255,255,0.8)"/>
<rect x="416" y="147" width="99" height="1" fill="rgba(255,255,255,0.8)"/>
<rect x="416" y="117" width="99" height="1" fill="rgba(255,255,255,0.45)"/>
<rect x="416" y="127" width="99" height="1" fill="rgba(255,255,255,0.45)"/>
<rect x="416" y="137" width="99" height="1" fill="rgba(255,255,255,0.45)"/>
<rect x="416" y="342" width="16" height="12" fill="#1a40d0"/>
<rect x="433" y="342" width="15" height="12" fill="#1a40d0"/>
<rect x="449" y="342" width="16" height="12" fill="#1a40d0"/>
<rect x="466" y="342" width="16" height="12" fill="#d81430"/>
<rect x="483" y="342" width="15" height="12" fill="#f04a30"/>
<rect x="499" y="342" width="16" height="12" fill="#d81430"/>
<rect x="416" y="354" width="16" height="10" fill="#f87830"/>
<rect x="433" y="354" width="15" height="10" fill="#f89030"/>
<rect x="449" y="354" width="16" height="10" fill="#f89030"/>
<rect x="466" y="354" width="16" height="10" fill="#6a88c8"/>
<rect x="483" y="354" width="15" height="10" fill="#6a88c8"/>
<rect x="499" y="354" width="16" height="10" fill="#1a40d0"/>
<rect x="416" y="364" width="16" height="11" fill="#f87830"/>
<rect x="433" y="364" width="15" height="11" fill="#f04a30"/>
<rect x="449" y="364" width="16" height="11" fill="#f06030"/>
<rect x="466" y="364" width="16" height="11" fill="#1a40d0"/>
<rect x="483" y="364" width="15" height="11" fill="#1a40d0"/>
<rect x="499" y="364" width="16" height="11" fill="#1a40d0"/>
<rect x="416" y="375" width="16" height="9" fill="#f04a30"/>
<rect x="433" y="375" width="15" height="9" fill="#d81430"/>
<rect x="449" y="375" width="16" height="9" fill="#d81430"/>
<rect x="466" y="375" width="16" height="9" fill="#1a40d0"/>
<rect x="483" y="375" width="15" height="9" fill="#1a40d0"/>
<rect x="499" y="375" width="16" height="9" fill="#1a40d0"/>
<rect x="416" y="384" width="16" height="11" fill="#f8a830"/>
<rect x="433" y="384" width="15" height="11" fill="#f06030"/>
<rect x="449" y="384" width="16" height="11" fill="#f87830"/>
<rect x="466" y="384" width="16" height="11" fill="#c0c848"/>
<rect x="483" y="384" width="15" height="11" fill="#2a58e0"/>
<rect x="499" y="384" width="16" height="11" fill="#6a88c8"/>
<rect x="416" y="395" width="16" height="10" fill="#e83030"/>
<rect x="433" y="395" width="15" height="10" fill="#d81430"/>
<rect x="449" y="395" width="16" height="10" fill="#f06030"/>
<rect x="466" y="395" width="16" height="10" fill="#1a40d0"/>
<rect x="483" y="395" width="15" height="10" fill="#2a58e0"/>
<rect x="499" y="395" width="16" height="10" fill="#1a40d0"/>
<rect x="416" y="342" width="1" height="12" fill="#1222a0"/>
<rect x="431" y="342" width="1" height="12" fill="#1222a0"/>
<rect x="416" y="342" width="16" height="1" fill="#1222a0"/>
<rect x="416" y="353" width="16" height="1" fill="#1222a0"/>
<rect x="433" y="342" width="1" height="12" fill="#1222a0"/>
<rect x="447" y="342" width="1" height="12" fill="#1222a0"/>
<rect x="433" y="342" width="15" height="1" fill="#1222a0"/>
<rect x="433" y="353" width="15" height="1" fill="#1222a0"/>
<rect x="449" y="342" width="1" height="12" fill="#1222a0"/>
<rect x="464" y="342" width="1" height="12" fill="#1222a0"/>
<rect x="449" y="342" width="16" height="1" fill="#1222a0"/>
<rect x="449" y="353" width="16" height="1" fill="#1222a0"/>
<rect x="499" y="354" width="1" height="10" fill="#1222a0"/>
<rect x="514" y="354" width="1" height="10" fill="#1222a0"/>
<rect x="499" y="354" width="16" height="1" fill="#1222a0"/>
<rect x="466" y="364" width="1" height="11" fill="#1222a0"/>
<rect x="481" y="364" width="1" height="11" fill="#1222a0"/>
<rect x="483" y="364" width="1" height="11" fill="#1222a0"/>
<rect x="497" y="364" width="1" height="11" fill="#1222a0"/>
<rect x="499" y="364" width="1" height="11" fill="#1222a0"/>
<rect x="514" y="364" width="1" height="11" fill="#1222a0"/>
<rect x="466" y="375" width="1" height="9" fill="#1222a0"/>
<rect x="481" y="375" width="1" height="9" fill="#1222a0"/>
<rect x="483" y="375" width="1" height="9" fill="#1222a0"/>
<rect x="497" y="375" width="1" height="9" fill="#1222a0"/>
<rect x="499" y="375" width="1" height="9" fill="#1222a0"/>
<rect x="514" y="375" width="1" height="9" fill="#1222a0"/>
<rect x="483" y="384" width="1" height="11" fill="#1222a0"/>
<rect x="497" y="384" width="1" height="11" fill="#1222a0"/>
<rect x="466" y="395" width="1" height="10" fill="#1222a0"/>
<rect x="481" y="395" width="1" height="10" fill="#1222a0"/>
<rect x="466" y="404" width="16" height="1" fill="#1222a0"/>
<rect x="483" y="395" width="1" height="10" fill="#1222a0"/>
<rect x="497" y="395" width="1" height="10" fill="#1222a0"/>
<rect x="483" y="404" width="15" height="1" fill="#1222a0"/>
<rect x="499" y="395" width="1" height="10" fill="#1222a0"/>
<rect x="514" y="395" width="1" height="10" fill="#1222a0"/>
<rect x="499" y="404" width="16" height="1" fill="#1222a0"/>
<rect x="416" y="354" width="99" height="1" fill="rgba(255,255,255,0.8)"/>
<rect x="416" y="430" width="16" height="10" fill="#1a40d0"/>
<rect x="433" y="430" width="16" height="10" fill="#1a40d0"/>
<rect x="450" y="430" width="15" height="10" fill="#1a40d0"/>
<rect x="466" y="430" width="16" height="10" fill="#f06030"/>
<rect x="483" y="430" width="15" height="10" fill="#f87830"/>
<rect x="499" y="430" width="16" height="10" fill="#f06030"/>
<rect x="416" y="440" width="16" height="10" fill="#1a40d0"/>
<rect x="433" y="440" width="16" height="10" fill="#1a40d0"/>
<rect x="450" y="440" width="15" height="10" fill="#1a40d0"/>
<rect x="466" y="440" width="16" height="10" fill="#d81430"/>
<rect x="483" y="440" width="15" height="10" fill="#f87830"/>
<rect x="499" y="440" width="16" height="10" fill="#f87830"/>
<rect x="416" y="450" width="16" height="12" fill="#d81430"/>
<rect x="433" y="450" width="16" height="12" fill="#d81430"/>
<rect x="450" y="450" width="15" height="12" fill="#f06030"/>
<rect x="466" y="450" width="16" height="12" fill="#1a40d0"/>
<rect x="483" y="450" width="15" height="12" fill="#1a40d0"/>
<rect x="499" y="450" width="16" height="12" fill="#1a40d0"/>
<rect x="416" y="462" width="16" height="11" fill="#f04a30"/>
<rect x="433" y="462" width="16" height="11" fill="#f04a30"/>
<rect x="450" y="462" width="15" height="11" fill="#d81430"/>
<rect x="466" y="462" width="16" height="11" fill="#1a40d0"/>
<rect x="483" y="462" width="15" height="11" fill="#1a40d0"/>
<rect x="499" y="462" width="16" height="11" fill="#1a40d0"/>
<rect x="416" y="473" width="16" height="13" fill="#f04a30"/>
<rect x="433" y="473" width="16" height="13" fill="#f04a30"/>
<rect x="450" y="473" width="15" height="13" fill="#f06030"/>
<rect x="466" y="473" width="16" height="13" fill="#1a40d0"/>
<rect x="483" y="473" width="15" height="13" fill="#1a40d0"/>
<rect x="499" y="473" width="16" height="13" fill="#1a40d0"/>
<rect x="416" y="486" width="16" height="10" fill="#e83030"/>
<rect x="433" y="486" width="16" height="10" fill="#d81430"/>
<rect x="450" y="486" width="15" height="10" fill="#f06030"/>
<rect x="466" y="486" width="16" height="10" fill="#1a40d0"/>
<rect x="483" y="486" width="15" height="10" fill="#1a40d0"/>
<rect x="499" y="486" width="16" height="10" fill="#1a40d0"/>
<rect x="416" y="496" width="16" height="11" fill="#f88430"/>
<rect x="433" y="496" width="16" height="11" fill="#f88430"/>
<rect x="450" y="496" width="15" height="11" fill="#f88430"/>
<rect x="466" y="496" width="16" height="11" fill="#4070d8"/>
<rect x="483" y="496" width="15" height="11" fill="#1a40d0"/>
<rect x="499" y="496" width="16" height="11" fill="#1a40d0"/>
<rect x="416" y="507" width="16" height="12" fill="#f88430"/>
<rect x="433" y="507" width="16" height="12" fill="#f88430"/>
<rect x="450" y="507" width="15" height="12" fill="#f88430"/>
<rect x="466" y="507" width="16" height="12" fill="#4070d8"/>
<rect x="483" y="507" width="15" height="12" fill="#1a40d0"/>
<rect x="499" y="507" width="16" height="12" fill="#4070d8"/>
<rect x="416" y="519" width="16" height="11" fill="#f87830"/>
<rect x="433" y="519" width="16" height="11" fill="#f89c30"/>
<rect x="450" y="519" width="15" height="11" fill="#f87830"/>
<rect x="466" y="519" width="16" height="11" fill="#1a40d0"/>
<rect x="483" y="519" width="15" height="11" fill="#90a088"/>
<rect x="499" y="519" width="16" height="11" fill="#1a40d0"/>
<rect x="416" y="530" width="16" height="11" fill="#f87830"/>
<rect x="433" y="530" width="16" height="11" fill="#f89030"/>
<rect x="450" y="530" width="15" height="11" fill="#f87830"/>
<rect x="466" y="530" width="16" height="11" fill="#1a40d0"/>
<rect x="483" y="530" width="15" height="11" fill="#4070d8"/>
<rect x="499" y="530" width="16" height="11" fill="#1a40d0"/>
<rect x="416" y="541" width="16" height="10" fill="#f87830"/>
<rect x="433" y="541" width="16" height="10" fill="#d81430"/>
<rect x="450" y="541" width="15" height="10" fill="#d81430"/>
<rect x="466" y="541" width="16" height="10" fill="#1a40d0"/>
<rect x="483" y="541" width="15" height="10" fill="#1a40d0"/>
<rect x="499" y="541" width="16" height="10" fill="#1a40d0"/>
<rect x="416" y="551" width="16" height="10" fill="#f87830"/>
<rect x="433" y="551" width="16" height="10" fill="#d81430"/>
<rect x="450" y="551" width="15" height="10" fill="#e83030"/>
<rect x="466" y="551" width="16" height="10" fill="#1a40d0"/>
<rect x="483" y="551" width="15" height="10" fill="#1a40d0"/>
<rect x="499" y="551" width="16" height="10" fill="#1a40d0"/>
<rect x="416" y="561" width="16" height="11" fill="#d81430"/>
<rect x="433" y="561" width="16" height="11" fill="#f87830"/>
<rect x="450" y="561" width="15" height="11" fill="#f06030"/>
<rect x="466" y="561" width="16" height="11" fill="#1a40d0"/>
<rect x="483" y="561" width="15" height="11" fill="#1a40d0"/>
<rect x="499" y="561" width="16" height="11" fill="#1a40d0"/>
<rect x="416" y="572" width="16" height="12" fill="#f8a830"/>
<rect x="433" y="572" width="16" height="12" fill="#f89030"/>
<rect x="450" y="572" width="15" height="12" fill="#f8a830"/>
<rect x="466" y="572" width="16" height="12" fill="#acb46c"/>
<rect x="483" y="572" width="15" height="12" fill="#4070d8"/>
<rect x="499" y="572" width="16" height="12" fill="#1a40d0"/>
<rect x="416" y="584" width="16" height="12" fill="#f06030"/>
<rect x="433" y="584" width="16" height="12" fill="#f8dc22"/>
<rect x="450" y="584" width="15" height="12" fill="#f04a30"/>
<rect x="466" y="584" width="16" height="12" fill="#90a088"/>
<rect x="483" y="584" width="15" height="12" fill="#f8dc22"/>
<rect x="499" y="584" width="16" height="12" fill="#acb46c"/>
<rect x="416" y="596" width="16" height="11" fill="#e83030"/>
<rect x="433" y="596" width="16" height="11" fill="#f8a830"/>
<rect x="450" y="596" width="15" height="11" fill="#f04a30"/>
<rect x="466" y="596" width="16" height="11" fill="#1a40d0"/>
<rect x="483" y="596" width="15" height="11" fill="#c0c848"/>
<rect x="499" y="596" width="16" height="11" fill="#1a40d0"/>
<rect x="416" y="607" width="16" height="10" fill="#f04a30"/>
<rect x="433" y="607" width="16" height="10" fill="#f87830"/>
<rect x="450" y="607" width="15" height="10" fill="#f8c428"/>
<rect x="466" y="607" width="16" height="10" fill="#1a40d0"/>
<rect x="483" y="607" width="15" height="10" fill="#f8dc22"/>
<rect x="499" y="607" width="16" height="10" fill="#1a40d0"/>
<rect x="416" y="617" width="16" height="11" fill="#f04a30"/>
<rect x="433" y="617" width="16" height="11" fill="#f8dc22"/>
<rect x="450" y="617" width="15" height="11" fill="#f8a830"/>
<rect x="466" y="617" width="16" height="11" fill="#2a58e0"/>
<rect x="483" y="617" width="15" height="11" fill="#f8dc22"/>
<rect x="499" y="617" width="16" height="11" fill="#c0c848"/>
<rect x="416" y="628" width="16" height="11" fill="#f06030"/>
<rect x="433" y="628" width="16" height="11" fill="#f8a830"/>
<rect x="450" y="628" width="15" height="11" fill="#f8a830"/>
<rect x="466" y="628" width="16" height="11" fill="#acb46c"/>
<rect x="483" y="628" width="15" height="11" fill="#c0c848"/>
<rect x="499" y="628" width="16" height="11" fill="#acb46c"/>
<rect x="416" y="639" width="16" height="10" fill="#f8a830"/>
<rect x="433" y="639" width="16" height="10" fill="#f8a830"/>
<rect x="450" y="639" width="15" height="10" fill="#f8a830"/>
<rect x="466" y="639" width="16" height="10" fill="#1a40d0"/>
<rect x="483" y="639" width="15" height="10" fill="#1a40d0"/>
<rect x="499" y="639" width="16" height="10" fill="#f8dc22"/>
<rect x="416" y="430" width="1" height="10" fill="#1222a0"/>
<rect x="431" y="430" width="1" height="10" fill="#1222a0"/>
<rect x="416" y="430" width="16" height="1" fill="#1222a0"/>
<rect x="433" y="430" width="1" height="10" fill="#1222a0"/>
<rect x="448" y="430" width="1" height="10" fill="#1222a0"/>
<rect x="433" y="430" width="16" height="1" fill="#1222a0"/>
<rect x="450" y="430" width="1" height="10" fill="#1222a0"/>
<rect x="464" y="430" width="1" height="10" fill="#1222a0"/>
<rect x="450" y="430" width="15" height="1" fill="#1222a0"/>
<rect x="416" y="440" width="1" height="10" fill="#1222a0"/>
<rect x="431" y="440" width="1" height="10" fill="#1222a0"/>
<rect x="416" y="449" width="16" height="1" fill="#1222a0"/>
<rect x="433" y="440" width="1" height="10" fill="#1222a0"/>
<rect x="448" y="440" width="1" height="10" fill="#1222a0"/>
<rect x="433" y="449" width="16" height="1" fill="#1222a0"/>
<rect x="450" y="440" width="1" height="10" fill="#1222a0"/>
<rect x="464" y="440" width="1" height="10" fill="#1222a0"/>
<rect x="450" y="449" width="15" height="1" fill="#1222a0"/>
<rect x="466" y="450" width="1" height="12" fill="#1222a0"/>
<rect x="481" y="450" width="1" height="12" fill="#1222a0"/>
<rect x="466" y="450" width="16" height="1" fill="#1222a0"/>
<rect x="483" y="450" width="1" height="12" fill="#1222a0"/>
<rect x="497" y="450" width="1" height="12" fill="#1222a0"/>
<rect x="483" y="450" width="15" height="1" fill="#1222a0"/>
<rect x="499" y="450" width="1" height="12" fill="#1222a0"/>
<rect x="514" y="450" width="1" height="12" fill="#1222a0"/>
<rect x="499" y="450" width="16" height="1" fill="#1222a0"/>
<rect x="466" y="462" width="1" height="11" fill="#1222a0"/>
<rect x="481" y="462" width="1" height="11" fill="#1222a0"/>
<rect x="483" y="462" width="1" height="11" fill="#1222a0"/>
<rect x="497" y="462" width="1" height="11" fill="#1222a0"/>
<rect x="499" y="462" width="1" height="11" fill="#1222a0"/>
<rect x="514" y="462" width="1" height="11" fill="#1222a0"/>
<rect x="466" y="473" width="1" height="13" fill="#1222a0"/>
<rect x="481" y="473" width="1" height="13" fill="#1222a0"/>
<rect x="483" y="473" width="1" height="13" fill="#1222a0"/>
<rect x="497" y="473" width="1" height="13" fill="#1222a0"/>
<rect x="499" y="473" width="1" height="13" fill="#1222a0"/>
<rect x="514" y="473" width="1" height="13" fill="#1222a0"/>
<rect x="466" y="486" width="1" height="10" fill="#1222a0"/>
<rect x="481" y="486" width="1" height="10" fill="#1222a0"/>
<rect x="483" y="486" width="1" height="10" fill="#1222a0"/>
<rect x="497" y="486" width="1" height="10" fill="#1222a0"/>
<rect x="499" y="486" width="1" height="10" fill="#1222a0"/>
<rect x="514" y="486" width="1" height="10" fill="#1222a0"/>
<rect x="483" y="496" width="1" height="11" fill="#1222a0"/>
<rect x="497" y="496" width="1" height="11" fill="#1222a0"/>
<rect x="499" y="496" width="1" height="11" fill="#1222a0"/>
<rect x="514" y="496" width="1" height="11" fill="#1222a0"/>
<rect x="483" y="507" width="1" height="12" fill="#1222a0"/>
<rect x="497" y="507" width="1" height="12" fill="#1222a0"/>
<rect x="466" y="519" width="1" height="11" fill="#1222a0"/>
<rect x="481" y="519" width="1" height="11" fill="#1222a0"/>
<rect x="499" y="519" width="1" height="11" fill="#1222a0"/>
<rect x="514" y="519" width="1" height="11" fill="#1222a0"/>
<rect x="466" y="530" width="1" height="11" fill="#1222a0"/>
<rect x="481" y="530" width="1" height="11" fill="#1222a0"/>
<rect x="499" y="530" width="1" height="11" fill="#1222a0"/>
<rect x="514" y="530" width="1" height="11" fill="#1222a0"/>
<rect x="466" y="541" width="1" height="10" fill="#1222a0"/>
<rect x="481" y="541" width="1" height="10" fill="#1222a0"/>
<rect x="483" y="541" width="1" height="10" fill="#1222a0"/>
<rect x="497" y="541" width="1" height="10" fill="#1222a0"/>
<rect x="499" y="541" width="1" height="10" fill="#1222a0"/>
<rect x="514" y="541" width="1" height="10" fill="#1222a0"/>
<rect x="466" y="551" width="1" height="10" fill="#1222a0"/>
<rect x="481" y="551" width="1" height="10" fill="#1222a0"/>
<rect x="483" y="551" width="1" height="10" fill="#1222a0"/>
<rect x="497" y="551" width="1" height="10" fill="#1222a0"/>
<rect x="499" y="551" width="1" height="10" fill="#1222a0"/>
<rect x="514" y="551" width="1" height="10" fill="#1222a0"/>
<rect x="466" y="561" width="1" height="11" fill="#1222a0"/>
<rect x="481" y="561" width="1" height="11" fill="#1222a0"/>
<rect x="483" y="561" width="1" height="11" fill="#1222a0"/>
<rect x="497" y="561" width="1" height="11" fill="#1222a0"/>
<rect x="499" y="561" width="1" height="11" fill="#1222a0"/>
<rect x="514" y="561" width="1" height="11" fill="#1222a0"/>
<rect x="499" y="572" width="1" height="12" fill="#1222a0"/>
<rect x="514" y="572" width="1" height="12" fill="#1222a0"/>
<rect x="466" y="596" width="1" height="11" fill="#1222a0"/>
<rect x="481" y="596" width="1" height="11" fill="#1222a0"/>
<rect x="499" y="596" width="1" height="11" fill="#1222a0"/>
<rect x="514" y="596" width="1" height="11" fill="#1222a0"/>
<rect x="466" y="607" width="1" height="10" fill="#1222a0"/>
<rect x="481" y="607" width="1" height="10" fill="#1222a0"/>
<rect x="499" y="607" width="1" height="10" fill="#1222a0"/>
<rect x="514" y="607" width="1" height="10" fill="#1222a0"/>
<rect x="466" y="617" width="1" height="11" fill="#1222a0"/>
<rect x="481" y="617" width="1" height="11" fill="#1222a0"/>
<rect x="466" y="639" width="1" height="10" fill="#1222a0"/>
<rect x="481" y="639" width="1" height="10" fill="#1222a0"/>
<rect x="466" y="648" width="16" height="1" fill="#1222a0"/>
<rect x="483" y="639" width="1" height="10" fill="#1222a0"/>
<rect x="497" y="639" width="1" height="10" fill="#1222a0"/>
<rect x="483" y="648" width="15" height="1" fill="#1222a0"/>
<rect x="416" y="450" width="100" height="1" fill="rgba(255,255,255,0.8)"/>
<rect x="416" y="485" width="100" height="1" fill="rgba(255,255,255,0.8)"/>
<rect x="416" y="496" width="100" height="1" fill="rgba(255,255,255,0.8)"/>
<rect x="416" y="595" width="100" height="1" fill="rgba(255,255,255,0.8)"/>
<rect x="416" y="507" width="100" height="1" fill="rgba(255,255,255,0.4)"/>
<rect x="416" y="518" width="100" height="1" fill="rgba(255,255,255,0.4)"/>
<path d="M143.50 35.50 V29.50 H180.70 V35.50" fill="none" stroke="#111" stroke-width="1.6"/>
<path d="M197.00 35.50 V29.50 H234.00 V35.50" fill="none" stroke="#111" stroke-width="1.6"/>
<path d="M421.30 36.50 V30.00 H457.50 V36.50" fill="none" stroke="#111" stroke-width="1.6"/>
<path d="M474.50 36.50 V30.00 H510.50 V36.50" fill="none" stroke="#111" stroke-width="1.6"/>
<defs><linearGradient id="cb" x1="0" x2="1" y1="0" y2="0"><stop offset="0" stop-color="#1c3ce0"/><stop offset="0.13" stop-color="#3458dc"/><stop offset="0.19" stop-color="#6080d0"/><stop offset="0.23" stop-color="#8898a0"/><stop offset="0.27" stop-color="#a8b460"/><stop offset="0.32" stop-color="#c8d040"/><stop offset="0.4" stop-color="#f0e020"/><stop offset="0.47" stop-color="#f8e018"/><stop offset="0.57" stop-color="#f8b030"/><stop offset="0.64" stop-color="#f88c30"/><stop offset="0.72" stop-color="#f86030"/><stop offset="0.81" stop-color="#f03838"/><stop offset="0.88" stop-color="#e01430"/><stop offset="1.0" stop-color="#c80830"/></linearGradient></defs>
<rect x="74.00" y="587.60" width="170.00" height="13.80" fill="url(#cb)"/>
<rect x="1.3" y="32.50" width="48.80" height="0.8" fill="#333"/>
<rect x="53.8" y="32.50" width="39.50" height="0.8" fill="#333"/>
<rect x="267.4" y="32.90" width="51.80" height="0.8" fill="#333"/>
<rect x="324.0" y="32.90" width="40.50" height="0.8" fill="#333"/>
<text x="141.30" y="10.00" style="font-size:10.6px;stroke-width:0.12px">Cytokine receptor - associated</text>
<text x="145.80" y="23.60" style="font-size:10.6px;stroke-width:0.12px">IgM</text>
<text x="164.30" y="23.00" style="font-size:6.5px;stroke-width:0.1px">+</text>
<text x="173.20" y="23.60" style="font-size:10.6px;stroke-width:0.12px">B</text>
<text x="209.60" y="23.60" style="font-size:10.6px;stroke-width:0.12px">PC</text>
<text x="417.40" y="10.60" style="font-size:10.6px;stroke-width:0.12px">Ras/MAPK</text>
<text x="422.70" y="24.30" style="font-size:10.6px;stroke-width:0.12px">IgM</text>
<text x="441.30" y="23.70" style="font-size:6.5px;stroke-width:0.1px">+</text>
<text x="450.20" y="24.30" style="font-size:10.6px;stroke-width:0.12px">B</text>
<text x="486.10" y="24.30" style="font-size:10.6px;stroke-width:0.12px">PC</text>
<text x="139.20" y="273.60" style="font-size:10.6px;stroke-width:0.12px">PI signaling</text>
<text x="138.90" y="414.40" style="font-size:10.7px;stroke-width:0.3px">Kinases</text>
<text x="415.20" y="337.50" style="font-size:10.6px;stroke-width:0.12px">Notch/Wnt</text>
<text x="414.20" y="423.60" style="font-size:10.7px;stroke-width:0.25px">Miscellaneous signaling</text>
<text x="1.30" y="31.40" style="font-size:8.7px">Accession no.</text>
<text x="53.80" y="31.40" style="font-size:8.75px">Gene name</text>
<text x="267.40" y="31.80" style="font-size:9.2px">Accession no.</text>
<text x="324.00" y="31.80" style="font-size:9.0px">Gene name</text>
<text x="8.30" y="45.60" style="font-size:9px">AF090738</text>
<text x="54.00" y="45.60" style="font-size:9px">Irs2</text>
<text x="8.30" y="56.41" style="font-size:9px">U43673</text>
<text x="54.00" y="56.41" style="font-size:9px">IL-18R1</text>
<text x="8.30" y="67.22" style="font-size:9px">AF056187</text>
<text x="54.00" y="67.22" style="font-size:9px">IGF-1R</text>
<text x="8.30" y="78.03" style="font-size:9px">M73329</text>
<text x="54.00" y="78.03" style="font-size:9px">Grp58</text>
<text x="8.30" y="88.84" style="font-size:9px">U88327</text>
<text x="54.00" y="88.84" style="font-size:9px">SOCS2</text>
<text x="8.30" y="99.65" style="font-size:9px">L12120</text>
<text x="54.00" y="99.65" style="font-size:9px">IL-10R</text>
<text x="8.30" y="110.46" style="font-size:9px">U58992</text>
<text x="54.00" y="110.46" style="font-size:9px">SMAD1</text>
<text x="8.30" y="121.27" style="font-size:9px">M27960</text>
<text x="54.00" y="121.27" style="font-size:9px">IL-4R, alpha</text>
<text x="8.30" y="132.08" style="font-size:9px">M89641</text>
<text x="54.00" y="132.08" style="font-size:9px">IFNAR</text>
<text x="8.30" y="142.89" style="font-size:9px">AI837528</text>
<text x="54.00" y="142.89" style="font-size:9px">Jak1</text>
<text x="8.30" y="153.70" style="font-size:9px">L16956</text>
<text x="54.00" y="153.70" style="font-size:9px">Jak2</text>
<text x="8.30" y="164.51" style="font-size:9px">AF015260</text>
<text x="54.00" y="164.51" style="font-size:9px">SMAD7</text>
<text x="8.30" y="175.32" style="font-size:9px">AI286698</text>
<text x="54.00" y="175.32" style="font-size:9px">IL-17R</text>
<text x="8.30" y="186.13" style="font-size:9px">U69599</text>
<text x="54.00" y="186.13" style="font-size:9px">IFGR2</text>
<text x="8.30" y="196.94" style="font-size:9px">AV327290</text>
<text x="54.00" y="196.94" style="font-size:9px">PIAS3</text>
<text x="8.30" y="207.75" style="font-size:9px">U60530</text>
<text x="54.00" y="207.75" style="font-size:9px">SMAD2</text>
<text x="8.30" y="218.56" style="font-size:9px">AW124310</text>
<text x="54.00" y="218.56" style="font-size:9px">Stat interact. prot. 1</text>
<text x="8.30" y="229.37" style="font-size:9px">U31993</text>
<text x="54.00" y="229.37" style="font-size:9px">IL-17R</text>
<text x="1.50" y="241.38" style="font-size:10px;font-weight:bold">*</text>
<text x="8.30" y="240.18" style="font-size:9px">U88328</text>
<text x="54.00" y="240.18" style="font-size:9px">SOCS3</text>
<text x="8.30" y="250.99" style="font-size:9px">M28233</text>
<text x="54.00" y="250.99" style="font-size:9px">IFGR1</text>
<text x="8.30" y="290.70" style="font-size:9px">AF040094</text>
<text x="54.00" y="290.70" style="font-size:9px">INPPD5 II</text>
<text x="8.30" y="301.94" style="font-size:9px">AV367375</text>
<text x="54.00" y="301.94" style="font-size:9px">Prot. kinase C,zeta</text>
<text x="8.30" y="313.18" style="font-size:9px">AV303514</text>
<text x="54.00" y="313.18" style="font-size:9px">Pip5k2c</text>
<text x="8.30" y="324.42" style="font-size:9px">AI843172</text>
<text x="54.00" y="324.42" style="font-size:9px">INPPD5 II</text>
<text x="8.30" y="335.66" style="font-size:9px">D86176</text>
<text x="54.00" y="335.66" style="font-size:9px">Pip5k1a</text>
<text x="8.30" y="346.90" style="font-size:9px">U86587</text>
<text x="54.00" y="346.90" style="font-size:9px">PI kinase p110 delta</text>
<text x="8.30" y="358.14" style="font-size:9px">X53532</text>
<text x="54.00" y="358.14" style="font-size:9px">Prot. kinase C,betaII</text>
<text x="8.30" y="369.38" style="font-size:9px">X59274</text>
<text x="54.00" y="369.38" style="font-size:9px">Prot. kinase C,betaI</text>
<text x="8.30" y="380.62" style="font-size:9px">D86177</text>
<text x="54.00" y="380.62" style="font-size:9px">Pip5k1b</text>
<text x="8.30" y="391.86" style="font-size:9px">AI843864</text>
<text x="54.00" y="391.86" style="font-size:9px">Pip5k2a</text>
<text x="8.30" y="429.40" style="font-size:9px">D26186</text>
<text x="54.00" y="429.40" style="font-size:9px">Srm</text>
<text x="8.30" y="440.63" style="font-size:9px">D83002</text>
<text x="54.00" y="440.63" style="font-size:9px">Alk</text>
<text x="8.30" y="451.86" style="font-size:9px">J03023</text>
<text x="54.00" y="451.86" style="font-size:9px">Hck-1</text>
<text x="8.30" y="463.09" style="font-size:9px">M30903</text>
<text x="54.00" y="463.09" style="font-size:9px">Blk</text>
<text x="8.30" y="474.32" style="font-size:9px">M57696</text>
<text x="54.00" y="474.32" style="font-size:9px">Lyn</text>
<text x="8.30" y="485.55" style="font-size:9px">M12056</text>
<text x="54.00" y="485.55" style="font-size:9px">Lck</text>
<text x="8.30" y="496.78" style="font-size:9px">AA204265</text>
<text x="54.00" y="496.78" style="font-size:9px">Blk</text>
<text x="8.30" y="508.01" style="font-size:9px">M27266</text>
<text x="54.00" y="508.01" style="font-size:9px">Fyn</text>
<text x="8.30" y="519.24" style="font-size:9px">M38381</text>
<text x="54.00" y="519.24" style="font-size:9px">Clk</text>
<text x="8.30" y="530.47" style="font-size:9px">L10627</text>
<text x="54.00" y="530.47" style="font-size:9px">Btk</text>
<text x="8.30" y="541.70" style="font-size:9px">X52191</text>
<text x="54.00" y="541.70" style="font-size:9px">Fgr</text>
<text x="8.30" y="552.93" style="font-size:9px">AV314529</text>
<text x="54.00" y="552.93" style="font-size:9px">Lck</text>
<text x="8.30" y="564.16" style="font-size:9px">U25685</text>
<text x="54.00" y="564.16" style="font-size:9px">Syk</text>
<text x="280.00" y="46.20" style="font-size:9px">M89777</text>
<text x="324.00" y="46.20" style="font-size:9px">Rab3D</text>
<text x="280.00" y="56.13" style="font-size:9px">X99963</text>
<text x="324.00" y="56.13" style="font-size:9px">RhoB</text>
<text x="280.00" y="66.06" style="font-size:9px">Z48587</text>
<text x="324.00" y="66.06" style="font-size:9px">RalA</text>
<text x="280.00" y="75.99" style="font-size:9px">X95403</text>
<text x="324.00" y="75.99" style="font-size:9px">Rab2</text>
<text x="280.00" y="85.92" style="font-size:9px">Y00094</text>
<text x="324.00" y="85.92" style="font-size:9px">Rab1</text>
<text x="280.00" y="95.85" style="font-size:9px">L20294</text>
<text x="324.00" y="95.85" style="font-size:9px">Sara</text>
<text x="280.00" y="105.78" style="font-size:9px">L40934</text>
<text x="324.00" y="105.78" style="font-size:9px">Rabac1</text>
<text x="280.00" y="115.71" style="font-size:9px">U50595</text>
<text x="324.00" y="115.71" style="font-size:9px">MAPKKK2</text>
<text x="280.00" y="125.64" style="font-size:9px">Z14249</text>
<text x="324.00" y="125.64" style="font-size:9px">MAPK3</text>
<text x="280.00" y="135.57" style="font-size:9px">L02526</text>
<text x="324.00" y="135.57" style="font-size:9px">MEK1</text>
<text x="280.00" y="145.50" style="font-size:9px">X02452</text>
<text x="324.00" y="145.50" style="font-size:9px">Kras2</text>
<text x="280.00" y="155.43" style="font-size:9px">Y11092</text>
<text x="324.00" y="155.43" style="font-size:9px">MAPK-interact. kinase 2</text>
<text x="280.00" y="165.36" style="font-size:9px">Y09010</text>
<text x="324.00" y="165.36" style="font-size:9px">MAPKKKK1</text>
<text x="280.00" y="175.29" style="font-size:9px">X53247</text>
<text x="324.00" y="175.29" style="font-size:9px">Rac2</text>
<text x="280.00" y="185.22" style="font-size:9px">U07617</text>
<text x="324.00" y="185.22" style="font-size:9px">Grb2</text>
<text x="280.00" y="195.15" style="font-size:9px">AI845732</text>
<text x="324.00" y="195.15" style="font-size:9px">MAPK-interact.kinase 2</text>
<text x="280.00" y="205.08" style="font-size:9px">X84239</text>
<text x="324.00" y="205.08" style="font-size:9px">Rab5b</text>
<text x="280.00" y="215.01" style="font-size:9px">AI843682</text>
<text x="324.00" y="215.01" style="font-size:9px">Nras</text>
<text x="280.00" y="224.94" style="font-size:9px">Z22819</text>
<text x="324.00" y="224.94" style="font-size:9px">Rab24</text>
<text x="280.00" y="234.87" style="font-size:9px">X13664</text>
<text x="324.00" y="234.87" style="font-size:9px">Nras</text>
<text x="280.00" y="244.80" style="font-size:9px">AF082526</text>
<text x="324.00" y="244.80" style="font-size:9px">MEK binding partner 1</text>
<text x="280.00" y="254.73" style="font-size:9px">L78075</text>
<text x="324.00" y="254.73" style="font-size:9px">Cdc42</text>
<text x="280.00" y="264.66" style="font-size:9px">AW120722</text>
<text x="324.00" y="264.66" style="font-size:9px">MAPK-prot. kinase 2</text>
<text x="280.00" y="274.59" style="font-size:9px">U20238</text>
<text x="324.00" y="274.59" style="font-size:9px">GAPIII</text>
<text x="280.00" y="284.52" style="font-size:9px">AI846668</text>
<text x="324.00" y="284.52" style="font-size:9px">RhoA</text>
<text x="280.00" y="294.45" style="font-size:9px">AI853331</text>
<text x="324.00" y="294.45" style="font-size:9px">RasGap</text>
<text x="280.00" y="304.38" style="font-size:9px">AB004664</text>
<text x="324.00" y="304.38" style="font-size:9px">Rab33b</text>
<text x="280.00" y="314.31" style="font-size:9px">U43187</text>
<text x="324.00" y="314.31" style="font-size:9px">MEK kinase 3</text>
<text x="272.00" y="351.00" style="font-size:10px;font-weight:bold">*</text>
<text x="280.00" y="349.80" style="font-size:9px">Z11886</text>
<text x="323.50" y="349.80" style="font-size:9px">Notch-1</text>
<text x="280.00" y="360.80" style="font-size:9px">U57325</text>
<text x="323.50" y="360.80" style="font-size:9px">Presenilin 2</text>
<text x="280.00" y="371.70" style="font-size:9px">AF015769</text>
<text x="323.50" y="371.70" style="font-size:9px">Manic fringe</text>
<text x="280.00" y="382.60" style="font-size:9px">U58974</text>
<text x="323.50" y="382.60" style="font-size:9px">Frat1</text>
<text x="280.00" y="393.60" style="font-size:9px">U38252</text>
<text x="323.50" y="393.60" style="font-size:9px">Deltex1</text>
<text x="272.00" y="405.60" style="font-size:10px;font-weight:bold">*</text>
<text x="280.00" y="404.40" style="font-size:9px">AF009011</text>
<text x="323.50" y="404.40" style="font-size:9px">Axin</text>
<text x="280.00" y="435.50" style="font-size:9px">X54149</text>
<text x="323.50" y="435.50" style="font-size:9px">GADD45&#946;</text>
<text x="272.00" y="447.80" style="font-size:10px;font-weight:bold">*</text>
<text x="280.00" y="446.60" style="font-size:9px">M13945</text>
<text x="323.50" y="446.60" style="font-size:9px">Pim-1</text>
<text x="280.00" y="457.70" style="font-size:9px">M90397</text>
<text x="323.50" y="457.70" style="font-size:9px">Bcl-3</text>
<text x="280.00" y="469.50" style="font-size:9px">AI842752</text>
<text x="323.50" y="469.50" style="font-size:9px">TollIP</text>
<text x="280.00" y="480.80" style="font-size:9px">D78141</text>
<text x="323.50" y="480.80" style="font-size:9px">Traf5</text>
<text x="280.00" y="491.90" style="font-size:9px">X62700</text>
<text x="323.50" y="491.90" style="font-size:9px">UPAR</text>
<text x="280.00" y="503.20" style="font-size:9px">U19799</text>
<text x="323.50" y="503.20" style="font-size:9px">I&#954;B&#946;</text>
<text x="280.00" y="514.40" style="font-size:9px">AF026524</text>
<text x="323.50" y="514.40" style="font-size:9px">IKK&#946;</text>
<text x="280.00" y="525.60" style="font-size:9px">AB011543</text>
<text x="323.50" y="525.60" style="font-size:9px">DNA-PKcs</text>
<text x="280.00" y="537.10" style="font-size:9px">U21050</text>
<text x="323.50" y="537.10" style="font-size:9px">Traf3</text>
<text x="280.00" y="548.10" style="font-size:9px">AV109962</text>
<text x="323.50" y="548.10" style="font-size:9px">Traf4</text>
<text x="280.00" y="558.90" style="font-size:9px">X71788</text>
<text x="323.50" y="558.90" style="font-size:9px">CXCR5</text>
<text x="280.00" y="570.60" style="font-size:9px">AB020808</text>
<text x="323.50" y="570.60" style="font-size:9px">TLR6</text>
<text x="280.00" y="582.00" style="font-size:9px">L41495</text>
<text x="323.50" y="582.00" style="font-size:9px">Pim-2</text>
<text x="280.00" y="593.30" style="font-size:9px">U00937</text>
<text x="323.50" y="593.30" style="font-size:9px">GADD45&#945;</text>
<text x="280.00" y="604.60" style="font-size:9px">U88984</text>
<text x="323.50" y="604.60" style="font-size:9px">NIK</text>
<text x="280.00" y="615.80" style="font-size:9px">AW228036</text>
<text x="323.50" y="615.80" style="font-size:9px">Ttrap</text>
<text x="280.00" y="627.00" style="font-size:9px">AF055638</text>
<text x="323.50" y="627.00" style="font-size:9px">GADD45&#947;</text>
<text x="280.00" y="637.90" style="font-size:9px">X51397</text>
<text x="323.50" y="637.90" style="font-size:9px">MyD88</text>
<text x="280.00" y="648.70" style="font-size:9px">M64689</text>
<text x="323.50" y="648.70" style="font-size:9px">Flt3</text>
<text x="54.80" y="612.20" style="font-size:9px;font-weight:bold">0.25</text>
<text x="75.00" y="612.20" style="font-size:9px;font-weight:bold">0.33</text>
<text x="97.10" y="612.20" style="font-size:9px;font-weight:bold">0.5</text>
<text x="129.80" y="612.20" style="font-size:9px;font-weight:bold">0.8</text>
<text x="151.00" y="612.20" style="font-size:9px;font-weight:bold">1.0</text>
<text x="176.40" y="612.20" style="font-size:9px;font-weight:bold">1.2</text>
<text x="201.70" y="612.20" style="font-size:9px;font-weight:bold">2.0</text>
<text x="221.40" y="612.20" style="font-size:9px;font-weight:bold">3.0</text>
<text x="238.30" y="612.20" style="font-size:9px;font-weight:bold">4.0</text>
</svg>
</body></html>
